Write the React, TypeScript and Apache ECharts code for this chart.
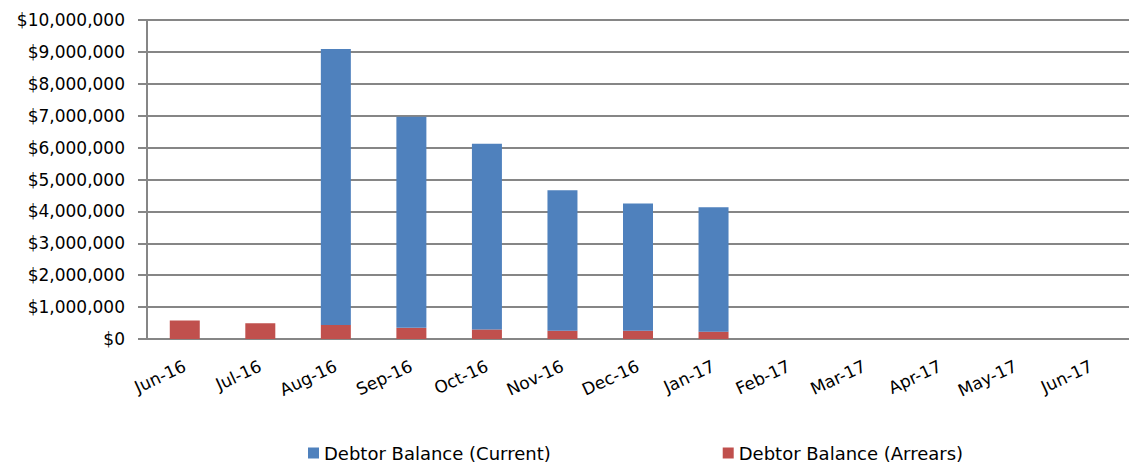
import React, { useEffect, useRef } from "react";
import * as echarts from "echarts";

const categories = ["Jun-16", "Jul-16", "Aug-16", "Sep-16", "Oct-16", "Nov-16", "Dec-16", "Jan-17", "Feb-17", "Mar-17", "Apr-17", "May-17", "Jun-17"];
const arrears = [580000, 490000, 440000, 350000, 300000, 260000, 260000, 230000, null, null, null, null, null];
const current = [0, -50000, 8650000, 6620000, 5820000, 4400000, 3990000, 3900000, null, null, null, null, null];

const fmt = (v: number) => "$" + String(Math.round(v)).replace(/\B(?=(\d{3})+(?!\d))/g, ",");

export default function App() {
  const ref = useRef<HTMLDivElement>(null);
  useEffect(() => {
    document.body.style.margin = "0";
    const chart = echarts.init(ref.current!, null, { renderer: "svg" });
    const font = "DejaVu Sans";
    chart.setOption({
      animation: false,
      textStyle: { fontFamily: font },
      grid: { left: 147, right: -6, top: 20, bottom: 126 },
      legend: {
        data: ["Debtor Balance (Current)", "Debtor Balance (Arrears)"],
        left: 308,
        top: 443,
        padding: 0,
        itemWidth: 11,
        itemHeight: 11,
        itemGap: 172,
        icon: "rect",
        textStyle: { fontFamily: font, fontSize: 18, color: "#000", lineHeight: 20 },
      },
      xAxis: {
        type: "category",
        data: categories,
        axisLine: { lineStyle: { color: "#868686", width: 2 } },
        axisTick: { lineStyle: { color: "#868686", width: 2 }, length: 6 },
        axisLabel: { rotate: 25, fontSize: 17, color: "#000", margin: 26, fontFamily: font },
      },
      yAxis: {
        type: "value",
        min: 0,
        max: 10000000,
        interval: 1000000,
        axisLine: { show: true, lineStyle: { color: "#868686", width: 2 } },
        axisTick: { show: true, length: 9, lineStyle: { color: "#868686", width: 2 } },
        splitLine: { lineStyle: { color: "#868686", width: 2 } },
        axisLabel: { formatter: fmt, fontSize: 17, color: "#000", margin: 22, fontFamily: font },
      },
      series: [
        {
          name: "Debtor Balance (Arrears)",
          type: "bar",
          stack: "total",
          data: arrears,
          barWidth: 30,
          itemStyle: { color: "#C0504D" },
        },
        {
          name: "Debtor Balance (Current)",
          type: "bar",
          stack: "total",
          data: current,
          barWidth: 30,
          itemStyle: { color: "#4F81BD" },
        },
      ],
    });
    return () => chart.dispose();
  }, []);
  return <div ref={ref} style={{ width: 1129, height: 465 }} />;
}
